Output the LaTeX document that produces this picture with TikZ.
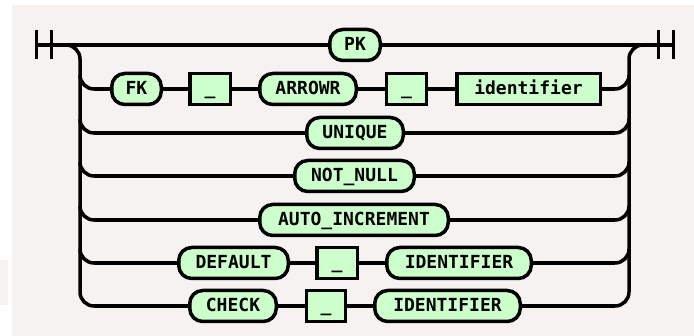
\documentclass[tikz,border=0pt]{standalone}
\usepackage{fontspec}
\setmonofont{DejaVu Sans Mono}
\definecolor{bgc}{RGB}{245,242,240}
\definecolor{boxc}{RGB}{204,255,204}
\begin{document}
\begin{tikzpicture}[x=1pt,y=1pt,
  rr/.style={line width=3.5pt, draw=black},
  item/.style={rr, fill=boxc, inner sep=0pt, minimum height=31pt,
    text height=12.5pt, text depth=0.5pt, align=center,
    font=\fontsize{18}{20}\selectfont\ttfamily\bfseries},
  term/.style={item, rounded corners=13pt},
  nonterm/.style={item, rectangle},
  wire/.style={line width=3.5pt, line cap=butt}]
\useasboundingbox (0,0) rectangle (694,336);
\fill[white] (0,0) rectangle (694,336);
\fill[bgc] (12,0) rectangle (694,331);
\fill[bgc] (0,31) rectangle (8,76);
% row y positions (y up)
\def\ya{291}\def\yb{247}\def\yc{203}\def\yd{160}\def\ye{116}\def\yf{73}\def\yg{30}
% start / end markers
\coordinate (s1) at (36.5,\ya);
\coordinate (e1) at (673.5,\ya);
\draw[wire] (36.5,\ya-14.5) -- (36.5,\ya+14.5);
\draw[wire] (51.5,\ya-14.5) -- (51.5,\ya+14.5);
\draw[wire] (658.5,\ya-14.5) -- (658.5,\ya+14.5);
\draw[wire] (673.5,\ya-14.5) -- (673.5,\ya+14.5);
% nodes
\node[term, minimum width=50.5pt] (pk) at (355,\ya) {PK};
\node[term, minimum width=49.5pt] (fk) at (136.5,\yb) {FK};
\node[nonterm, minimum width=40.5pt] (u1) at (210,\yb) {\_};
\node[term, minimum width=96.5pt] (arr) at (308,\yb) {ARROWR};
\node[nonterm, minimum width=40pt] (u2) at (406.5,\yb) {\_};
\node[nonterm, minimum width=143.5pt] (idl) at (528.5,\yb) {identifier};
\node[term, minimum width=96.5pt] (uniq) at (355,\yc) {UNIQUE};
\node[term, minimum width=119.5pt] (nn) at (354.5,\yd) {NOT\_NULL};
\node[term, minimum width=188.5pt] (ai) at (354,\ye) {AUTO\_INCREMENT};
\node[term, minimum width=109.5pt] (def) at (233.5,\yf) {DEFAULT};
\node[nonterm, minimum width=40.5pt] (u3) at (337,\yf) {\_};
\node[term, minimum width=144.5pt] (id1) at (459,\yf) {IDENTIFIER};
\node[term, minimum width=86.5pt] (chk) at (233,\yg) {CHECK};
\node[nonterm, minimum width=39pt] (u4) at (326,\yg) {\_};
\node[term, minimum width=145.5pt] (id2) at (447.5,\yg) {IDENTIFIER};
% branch coordinates
\foreach \n/\y in {b/\yb,c/\yc,d/\yd,e/\ye,f/\yf,g/\yg}{
  \coordinate (l\n) at (94,\y);
  \coordinate (r\n) at (615,\y);
}
% top row
\draw[wire] (s1) -- (pk.west);
\draw[wire] (pk.east) -- (e1);
% left and right rails
\draw[wire] (66,\ya) arc[start angle=90,end angle=0,radius=14] -- (80,\yg+14);
\draw[wire] (629,\yg+14) -- (629,\ya-14) arc[start angle=180,end angle=90,radius=14];
\foreach \n/\y in {b/\yb,c/\yc,d/\yd,e/\ye,f/\yf,g/\yg}{
  \draw[wire] (80,\y+14) arc[start angle=180,end angle=270,radius=14];
  \draw[wire] (615,\y) arc[start angle=270,end angle=360,radius=14];
}
% row connectors
\draw[wire] (lb) -- (fk.west);
\draw[wire] (fk.east) -- (u1.west);
\draw[wire] (u1.east) -- (arr.west);
\draw[wire] (arr.east) -- (u2.west);
\draw[wire] (u2.east) -- (idl.west);
\draw[wire] (idl.east) -- (rb);
\draw[wire] (lc) -- (uniq.west);
\draw[wire] (uniq.east) -- (rc);
\draw[wire] (ld) -- (nn.west);
\draw[wire] (nn.east) -- (rd);
\draw[wire] (le) -- (ai.west);
\draw[wire] (ai.east) -- (re);
\draw[wire] (lf) -- (def.west);
\draw[wire] (def.east) -- (u3.west);
\draw[wire] (u3.east) -- (id1.west);
\draw[wire] (id1.east) -- (rf);
\draw[wire] (lg) -- (chk.west);
\draw[wire] (chk.east) -- (u4.west);
\draw[wire] (u4.east) -- (id2.west);
\draw[wire] (id2.east) -- (rg);
\end{tikzpicture}
\end{document}
